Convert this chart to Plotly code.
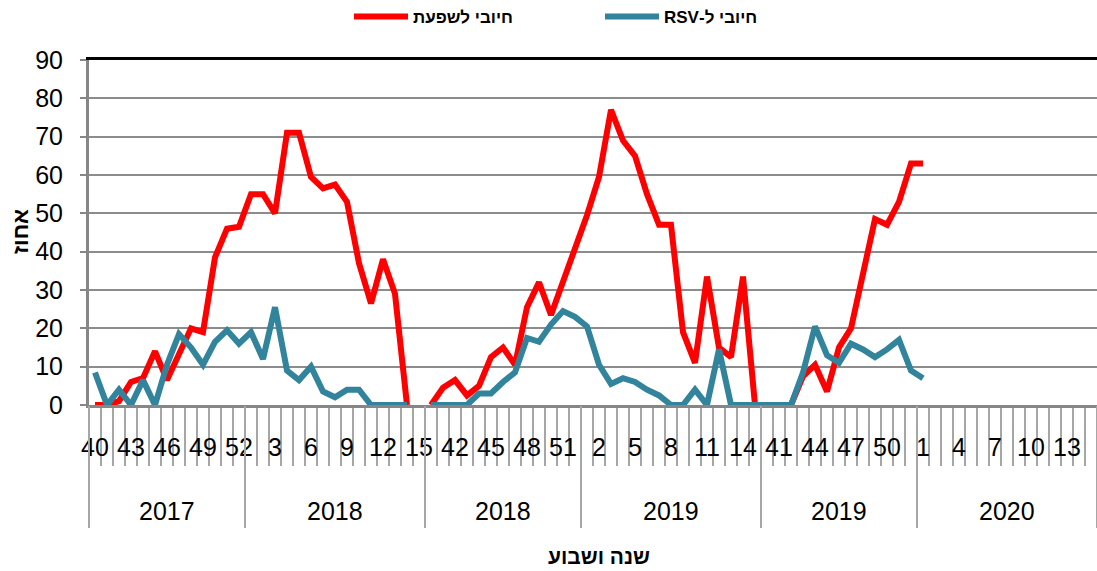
import plotly.graph_objects as go

# ---------------- data ----------------
autumn_weeks = ["40", "41", "42", "43", "44", "45", "46", "47", "48", "49", "50", "51", "52"]
spring_weeks = ["1", "2", "3", "4", "5", "6", "7", "8", "9", "10", "11", "12", "13", "14", "15"]
year_labels = ["2017", "2018", "2018", "2019", "2019", "2020"]
group_weeks = [autumn_weeks, spring_weeks, autumn_weeks, spring_weeks, autumn_weeks, spring_weeks]

# positive for influenza (%), season by season (weeks 40 .. 15)
flu_2017_18 = [0, 0, 1, 6, 7, 14, 6.5, 13, 20, 19, 38.5, 46, 46.5, 55, 55, 50, 71, 71,
               59.5, 56.5, 57.5, 53, 37, 26.5, 38, 29, 0, None]
flu_2018_19 = [0, 4.5, 6.5, 2.5, 5, 12.5, 15, 10.5, 25.5, 32, 23.5, 32, 40.5, 49.5, 59.5, 77,
               69, 65, 55, 47, 47, 19, 11, 33.5, 15, 12.5, 33.5, 0]
flu_2019_20 = [0, 0, 0, 7.5, 10.5, 3.5, 15, 20, 33.5, 48.5, 47, 53, 63, 63,
               None, None, None, None, None, None, None, None, None, None, None, None, None, None]

# positive for RSV (%)
rsv_2017_18 = [8.5, 0, 4, 0, 6.5, 0, 10.5, 18.5, 15, 10.5, 16.5, 19.5, 16, 19, 12, 25.5, 9, 6.5,
               10, 3.5, 2, 4, 4, 0, 0, 0, 0, None]
rsv_2018_19 = [0, 0, 0, 0, 3, 3, 6, 8.5, 17.5, 16.5, 21, 24.5, 23, 20.5, 10.5, 5.5, 7, 6, 4, 2.5,
               0, 0, 4, 0, 14.5, 0, 0, 0]
rsv_2019_20 = [0, 0, 0, 8.5, 20.5, 13, 11, 16, 14.5, 12.5, 14.5, 17, 9, 7,
               None, None, None, None, None, None, None, None, None, None, None, None, None, None]

flu_name = "חיובי לשפעת"
rsv_name = "חיובי ל-RSV"
y_title = "אחוז"
x_title = "שנה ושבוע"
y_ticks = [0, 10, 20, 30, 40, 50, 60, 70, 80, 90]

# ---------------- derived ----------------
week_labels = [w for g in group_weeks for w in g]
flu = flu_2017_18 + flu_2018_19 + flu_2019_20
rsv = rsv_2017_18 + rsv_2018_19 + rsv_2019_20
xs = list(range(len(week_labels)))

label_step = 3
tickvals = xs[::label_step]
ticktext = [week_labels[i] for i in tickvals]
boundaries = [i - 0.5 for i in xs] + [xs[-1] + 0.5]

group_edges = [-0.5]
for g in group_weeks:
    group_edges.append(group_edges[-1] + len(g))
group_centers = [(group_edges[k] + group_edges[k + 1]) / 2 for k in range(len(group_weeks))]

RLE, PDF = "\u202b", "\u202c"   # keep Hebrew labels right-to-left

# ---------------- style ----------------
W, H = 1097, 571
L, R, T, B = 89, 0, 60, 166
PH = H - T - B
PW = W - L - R
NUMF = "Liberation Sans, Arial, sans-serif"
HEB = "Liberation Sans, Arial, sans-serif"
RED = "#FF0000"
TEAL = "#31849B"
GRID = "#8C8C8C"
AXIS = "#868686"
TICK = "#A6A6A6"
CLEAR = "rgba(0,0,0,0)"
NUM_SIZE = 25


def py(px_from_top):
    """paper y for a pixel position measured from the top of the page"""
    return (H - B - px_from_top) / PH


def px_x(px):
    return (px - L) / PW


fig = go.Figure()
fig.add_trace(go.Scatter(x=xs, y=flu, mode="lines", name=RLE + flu_name + PDF,
                         line=dict(color=RED, width=6), connectgaps=False))
fig.add_trace(go.Scatter(x=xs, y=rsv, mode="lines", name=RLE + rsv_name + PDF,
                         line=dict(color=TEAL, width=6), connectgaps=False))

xr = [boundaries[0], boundaries[-1]]

fig.update_layout(
    width=W, height=H,
    margin=dict(l=L, r=R, t=T, b=B, pad=0, autoexpand=False),
    plot_bgcolor="white", paper_bgcolor="white",
    showlegend=True,
    legend=dict(orientation="h", xref="container", yref="container",
                x=349 / W, y=1 - 17 / H, xanchor="left", yanchor="middle",
                font=dict(family=HEB, size=17, color="black", weight="bold"),
                itemwidth=54, entrywidth=182, bgcolor=CLEAR),
    # main x axis: category boundary ticks + axis line
    xaxis=dict(range=xr, tickmode="array", tickvals=boundaries,
               ticks="outside", ticklen=58, tickcolor=TICK, tickwidth=2,
               showticklabels=False,
               showgrid=False, zeroline=False, automargin=False,
               showline=True, linecolor=AXIS, linewidth=2.5),
    # week labels (drawn on top of the boundary ticks)
    xaxis2=dict(range=xr, overlaying="x", anchor="y", side="bottom",
                tickmode="array", tickvals=tickvals, ticktext=ticktext,
                ticks="outside", ticklen=20, tickcolor=CLEAR,
                automargin=False, showgrid=False, zeroline=False, showline=False,
                tickfont=dict(family=NUMF, size=NUM_SIZE, color="black")),
    # year-group separators
    xaxis3=dict(range=xr, overlaying="x", anchor="y", side="bottom",
                tickmode="array", tickvals=group_edges, ticks="outside", ticklen=122,
                tickcolor=TICK, tickwidth=1.5, showticklabels=False, automargin=False,
                showgrid=False, zeroline=False, showline=False),
    # dark top border line
    xaxis4=dict(range=xr, overlaying="x", anchor="y", side="top",
                ticks="", showticklabels=False, showgrid=False, zeroline=False,
                automargin=False, showline=True, linecolor="black", linewidth=2.5),
    yaxis=dict(range=[0, 90], tickmode="array", tickvals=y_ticks,
               showgrid=True, gridcolor=GRID, gridwidth=2, zeroline=False,
               showline=True, linecolor=AXIS, linewidth=2.5, automargin=False,
               ticks="outside", ticklen=6, tickcolor=AXIS, tickwidth=2,
               showticklabels=False),
    yaxis2=dict(range=[0, 90], overlaying="y", anchor="x", side="left",
                tickmode="array", tickvals=y_ticks, ticks="outside", ticklen=20,
                tickcolor=CLEAR, showgrid=False, zeroline=False, showline=False,
                automargin=False,
                tickfont=dict(family=NUMF, size=NUM_SIZE, color="black")),
)

# invisible helper traces so that every overlay axis is drawn
for ax in ["x2", "x3", "x4"]:
    fig.add_trace(go.Scatter(x=[xr[0]], y=[None], xaxis=ax, yaxis="y",
                             showlegend=False, hoverinfo="skip"))
fig.add_trace(go.Scatter(x=[xr[0]], y=[None], xaxis="x", yaxis="y2",
                         showlegend=False, hoverinfo="skip"))

annotations = []
for yl, cx in zip(year_labels, group_centers):
    annotations.append(dict(text=yl, x=cx, xref="x", y=py(511), yref="paper",
                            showarrow=False, xanchor="center", yanchor="middle",
                            font=dict(family=NUMF, size=NUM_SIZE, color="black")))
annotations.append(dict(text="<b>" + y_title + "</b>", x=px_x(20), xref="paper",
                        y=py(232), yref="paper", textangle=-90, showarrow=False,
                        xanchor="center", yanchor="middle",
                        font=dict(family=HEB, size=22, color="black")))
annotations.append(dict(text="<b>" + x_title + "</b>", x=px_x(599), xref="paper",
                        y=py(556), yref="paper", showarrow=False,
                        xanchor="center", yanchor="middle",
                        font=dict(family=HEB, size=21, color="black")))
fig.update_layout(annotations=annotations)

fig.write_html(
    "out.html",
    config={"displayModeBar": False},
    post_script="document.documentElement.style.margin='0px';"
                "document.body.style.margin='0px';document.body.style.overflow='hidden';",
)
